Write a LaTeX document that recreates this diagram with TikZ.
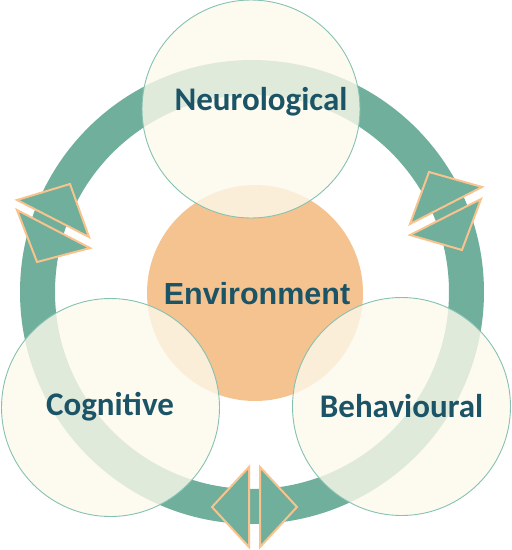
\documentclass[tikz,border=0pt]{standalone}
\usepackage{fontspec}
\newfontfamily\calfont{Carlito}
\newfontfamily\arialfont{Liberation Sans}
\definecolor{ringteal}{HTML}{6FAF9C}
\definecolor{arroworange}{HTML}{F8C38D}
\definecolor{envorange}{HTML}{F5C390}
\definecolor{cream}{HTML}{FDF9EB}
\definecolor{edgeteal}{HTML}{86C2B2}
\definecolor{textteal}{HTML}{1C5467}
\tikzset{
  ringband/.style={draw=ringteal, line width=35pt},
  arrowtri/.style={fill=ringteal, draw=arroworange, line width=2pt, line join=miter},
  envdisc/.style={circle, fill=envorange, inner sep=0pt, minimum size=216pt},
  bubble/.style={circle, fill=cream, fill opacity=0.8, draw=edgeteal, line width=0.9pt, inner sep=0pt, minimum size=218pt},
  bubbletext/.style={anchor=base, text=textteal, font=\calfont\bfseries\fontsize{33}{40}\selectfont},
  envtext/.style={anchor=base, text=textteal, font=\arialfont\bfseries\fontsize{30.5}{36}\selectfont}
}
\begin{document}
\begin{tikzpicture}[x=1pt,y=-1pt]
\useasboundingbox (0,0) rectangle (512,550);
% ring
\coordinate (ringc) at (252,292);
\draw[ringband] (ringc) circle[radius=214.5pt];
% arrow pairs
\filldraw[arrowtri] (249,467) -- (249,547) -- (212,507) -- cycle;
\filldraw[arrowtri] (260,467) -- (260,547) -- (297,507) -- cycle;
\filldraw[arrowtri] (17,200) -- (89,237) -- (70,184) -- cycle;
\filldraw[arrowtri] (17,210) -- (90,248) -- (37,262) -- cycle;
\filldraw[arrowtri] (410,224) -- (482,187) -- (429,172) -- cycle;
\filldraw[arrowtri] (410,235) -- (481,199) -- (462,250) -- cycle;
% environment
\node[envdisc] (env) at (255,293) {};
% bubbles
\node[bubble] (neuro) at (251,109) {};
\node[bubble] (cog) at (110.5,407.5) {};
\node[bubble] (beh) at (401.5,406.5) {};
% texts
\node[envtext] (envt) at (257,304) {Environment};
\node[bubbletext] (neurot) at (261,110) {Neurological};
\node[bubbletext] (cogt) at (110,415) {Cognitive};
\node[bubbletext] (beht) at (401.5,417) {Behavioural};
\end{tikzpicture}
\end{document}
